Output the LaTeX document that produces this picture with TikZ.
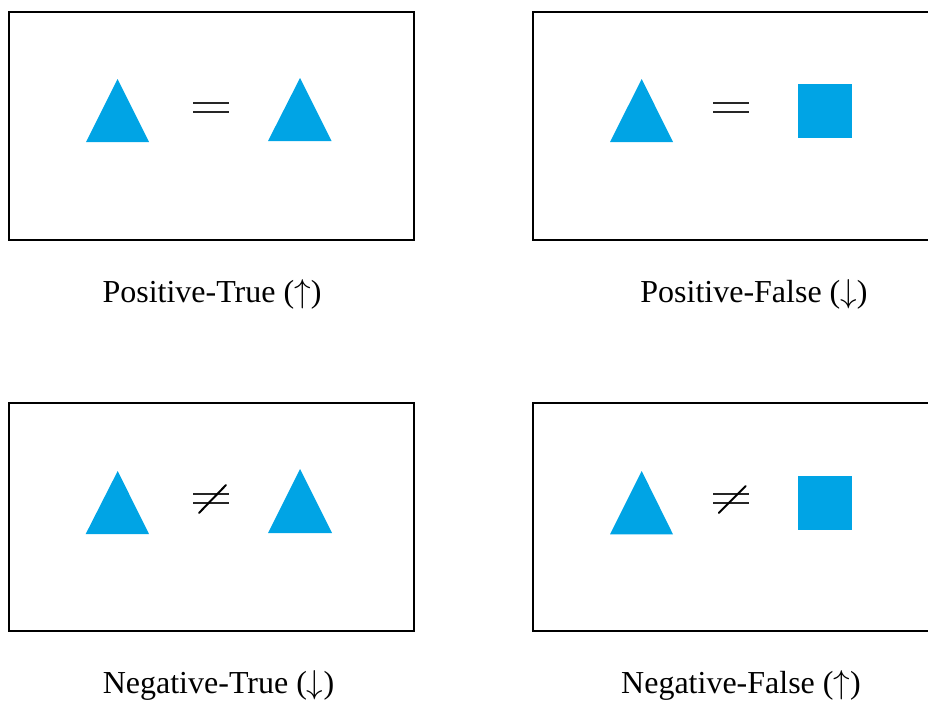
\documentclass[tikz,border=0pt]{standalone}
\usepackage{fontspec}
\setmainfont{Liberation Serif}
\definecolor{shapeblue}{RGB}{0,164,229}
\begin{document}
\begin{tikzpicture}[x=0.75pt,y=-0.75pt,
  panel/.style={draw=black,line width=1.6pt*0.75},
  shapefill/.style={fill=shapeblue,draw=none},
  eqline/.style={draw=black!85,line width=1.3pt},
  slashline/.style={draw=black,line width=1.5pt,line cap=round},
  lbl/.style={anchor=base,inner sep=0pt,font=\fontsize{24}{28}\selectfont}]
\useasboundingbox (0,0) rectangle (928,700);
\clip (0,0) rectangle (928,700);
% panels
\draw[panel] (9,12) rectangle (414,240);
\draw[panel] (533,12) rectangle (940,240);
\draw[panel] (9,403) rectangle (414,631);
\draw[panel] (533,403) rectangle (940,631);
% top-left
\fill[shapefill] (86,142) -- (117.5,79) -- (149,142) -- cycle;
\fill[shapefill] (268,141) -- (300,78) -- (331.5,141) -- cycle;
\draw[eqline] (193,103) -- (229,103);
\draw[eqline] (193,112) -- (229,112);
% top-right
\fill[shapefill] (610,142) -- (641.7,79) -- (673,142) -- cycle;
\draw[eqline] (713,103) -- (749,103);
\draw[eqline] (713,112) -- (749,112);
\fill[shapefill] (797.7,84) rectangle (851.7,138);
% bottom-left
\fill[shapefill] (85.7,534) -- (117.7,471) -- (149,534) -- cycle;
\fill[shapefill] (268,533) -- (300,469) -- (332,533) -- cycle;
\draw[eqline] (193,494) -- (229,494);
\draw[eqline] (193,503) -- (229,503);
\draw[slashline] (199,513) -- (226,485);
% bottom-right
\fill[shapefill] (610,534.3) -- (641.7,471) -- (673,534.3) -- cycle;
\draw[eqline] (713,494) -- (749,494);
\draw[eqline] (713,503) -- (749,503);
\draw[slashline] (718.7,513) -- (745.7,486);
\fill[shapefill] (797.7,476.3) rectangle (851.7,530);
% labels
\node[lbl] (ltl) at (212,302) {Positive-True ($\uparrow$)};
\node[lbl] (ltr) at (754,302) {Positive-False ($\downarrow$)};
\node[lbl] (lbl) at (218.5,693) {Negative-True ($\downarrow$)};
\node[lbl] (lbr) at (741,693) {Negative-False ($\uparrow$)};
\end{tikzpicture}
\end{document}
